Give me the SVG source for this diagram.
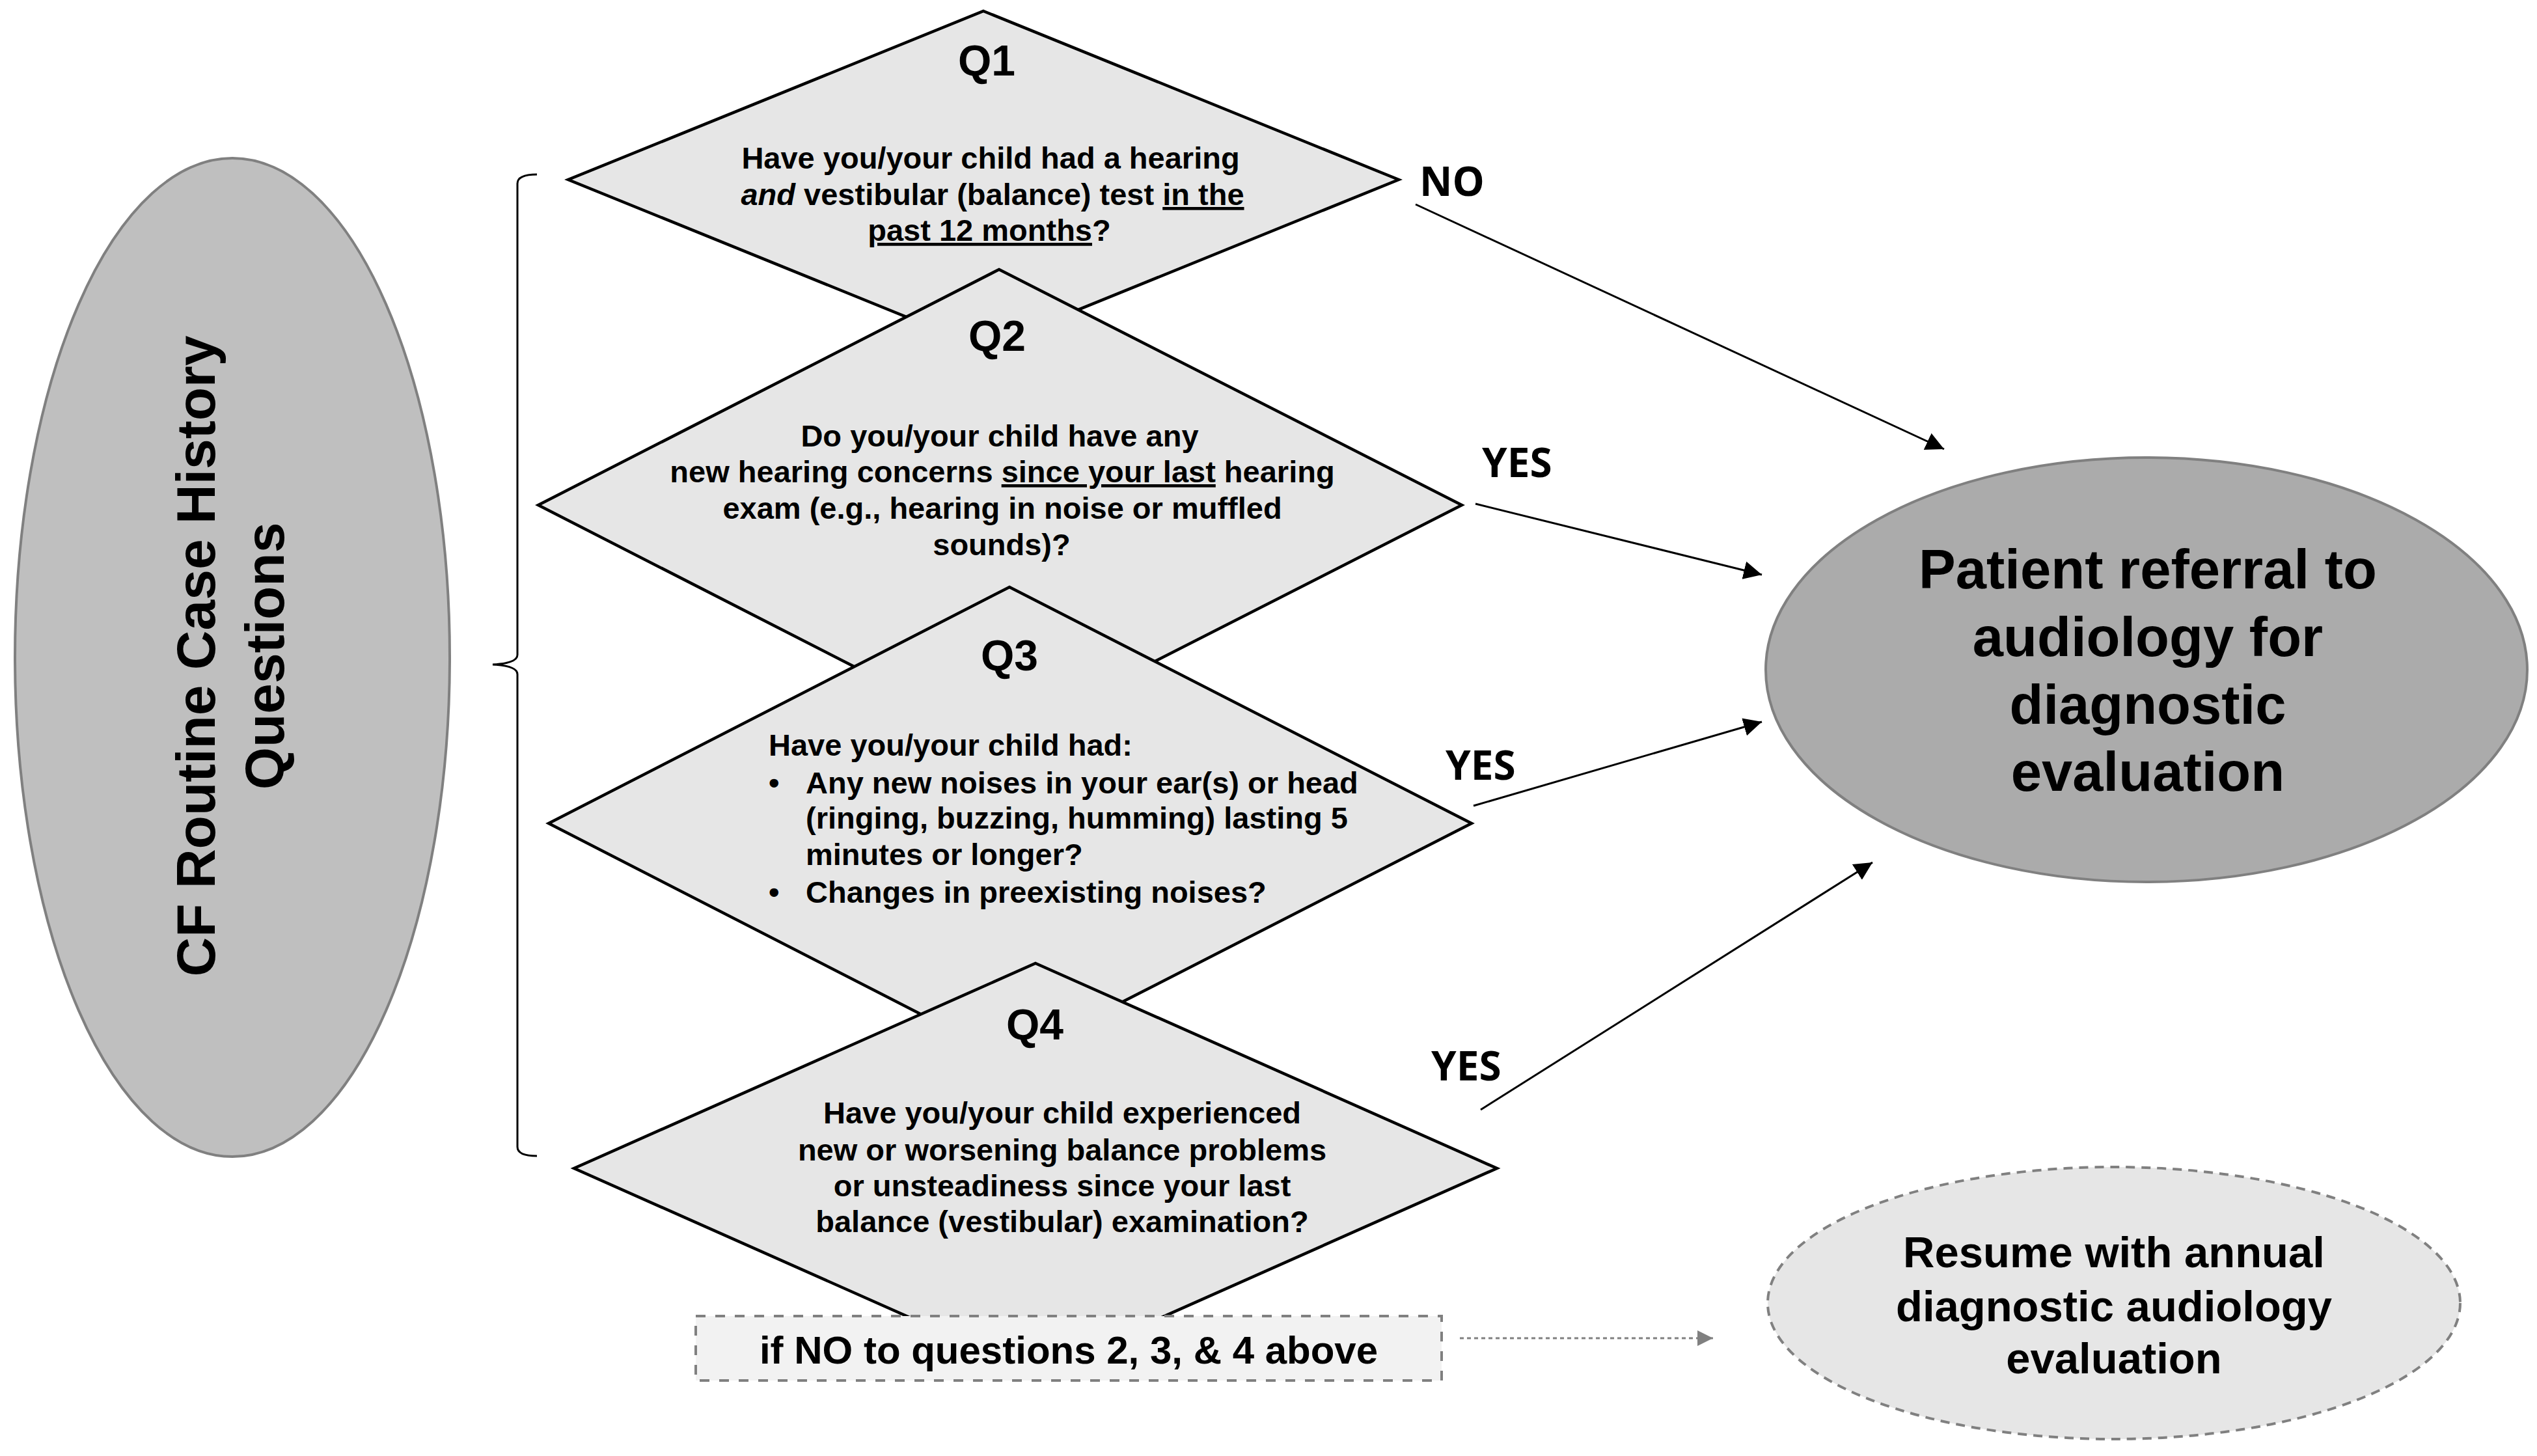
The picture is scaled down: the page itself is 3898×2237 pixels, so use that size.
<svg xmlns="http://www.w3.org/2000/svg" width="3898" height="2237" viewBox="0 0 3898 2237">
<defs>
<style>
text{font-family:"Liberation Sans",Arial,sans-serif;font-weight:bold;fill:#000}
.q{font-size:66px;text-anchor:middle}
.b{font-size:47px}
.c{text-anchor:middle}
.lbl{font-family:"Open Sans","Liberation Sans",sans-serif;font-size:62px;font-weight:bold}
.dia{fill:#e6e6e6;stroke:#000;stroke-width:4.5;stroke-linejoin:miter}
.conn{stroke:#000;stroke-width:3;fill:none}
.dot{stroke:#808080;stroke-width:3;stroke-dasharray:6 5;fill:none}
.u{text-decoration:underline}
</style>
<marker id="ah" markerUnits="userSpaceOnUse" markerWidth="30" markerHeight="28" refX="28" refY="14" orient="auto"><path d="M0,0 L28,14 L0,28 z" fill="#000"/></marker>
<marker id="ahg" markerUnits="userSpaceOnUse" markerWidth="26" markerHeight="26" refX="24" refY="12" orient="auto"><path d="M0,0 L24,12 L0,24 z" fill="#808080"/></marker>
</defs>
<rect width="3898" height="2237" fill="#fff"/>

<g id="start">
<ellipse cx="357" cy="1010" rx="334" ry="767" fill="#bfbfbf" stroke="#808080" stroke-width="4"/>
<text transform="translate(330,1008) rotate(-90)" class="c" font-size="84">CF Routine Case History<tspan x="0" dy="106">Questions</tspan></text>
</g>

<g id="brace">
<path d="M825,268 Q795,268 795,282 L795,1006 Q795,1019 757,1021 Q795,1023 795,1036 L795,1762 Q795,1776 825,1776" fill="none" stroke="#000" stroke-width="3"/>
</g>

<g id="q1">
<polygon class="dia" points="1511,17 2149,276 1511,535 873,276"/>
<text class="q" x="1516" y="116">Q1</text>
<text class="b c" x="1522" y="259">Have you/your child had a hearing</text>
<text class="b c" x="1525" y="315"><tspan font-style="italic">and</tspan> vestibular (balance) test <tspan class="u">in the</tspan></text>
<text class="b c" x="1520" y="370"><tspan class="u">past 12 months</tspan>?</text>
</g>

<g id="q2">
<polygon class="dia" points="1535,414 2246,776 1535,1138 827,776"/>
<text class="q" x="1532" y="539">Q2</text>
<text class="b c" x="1536" y="686">Do you/your child have any</text>
<text class="b c" x="1540" y="741">new hearing concerns <tspan class="u">since your last</tspan> hearing</text>
<text class="b c" x="1540" y="797">exam (e.g., hearing in noise or muffled</text>
<text class="b c" x="1539" y="853">sounds)?</text>
</g>

<g id="q3">
<polygon class="dia" points="1551,902 2261,1265 1551,1628 843,1265"/>
<text class="q" x="1551" y="1030">Q3</text>
<text class="b" x="1181" y="1161">Have you/your child had:</text>
<text class="b" x="1181" y="1219">•</text>
<text class="b" x="1238" y="1219">Any new noises in your ear(s) or head</text>
<text class="b" x="1238" y="1273">(ringing, buzzing, humming) lasting 5</text>
<text class="b" x="1238" y="1329">minutes or longer?</text>
<text class="b" x="1181" y="1387">•</text>
<text class="b" x="1238" y="1387">Changes in preexisting noises?</text>
</g>

<g id="q4">
<polygon class="dia" points="1591,1480 2300,1795 1591,2110 882,1795"/>
<text class="q" x="1590" y="1597">Q4</text>
<text class="b c" x="1632" y="1726">Have you/your child experienced</text>
<text class="b c" x="1632" y="1783">new or worsening balance problems</text>
<text class="b c" x="1632" y="1838">or unsteadiness since your last</text>
<text class="b c" x="1632" y="1893">balance (vestibular) examination?</text>
</g>

<g id="ifno">
<rect x="1069" y="2022" width="1146" height="99" fill="#f2f2f2" stroke="#808080" stroke-width="4" stroke-dasharray="15 15"/>
<text class="c" x="1642" y="2095" font-size="60">if NO to questions 2, 3, &amp; 4 above</text>
</g>

<g id="referral">
<ellipse cx="3298" cy="1029" rx="585" ry="326" fill="#ababab" stroke="#808080" stroke-width="4"/>
<text class="c" x="3300" y="904" font-size="85">Patient referral to</text>
<text class="c" x="3300" y="1008" font-size="85">audiology for</text>
<text class="c" x="3300" y="1112" font-size="85">diagnostic</text>
<text class="c" x="3300" y="1215" font-size="85">evaluation</text>
</g>

<g id="resume">
<ellipse cx="3248" cy="2002" rx="532" ry="209" fill="#e6e6e6" stroke="#808080" stroke-width="4" stroke-dasharray="14 10"/>
<text class="c" x="3248" y="1947" font-size="67">Resume with annual</text>
<text class="c" x="3248" y="2030" font-size="67">diagnostic audiology</text>
<text class="c" x="3248" y="2110" font-size="67">evaluation</text>
</g>

<g id="connectors">
<line class="conn" x1="2175" y1="314" x2="2987" y2="690" marker-end="url(#ah)"/>
<line class="conn" x1="2267" y1="774" x2="2707" y2="883" marker-end="url(#ah)"/>
<line class="conn" x1="2264" y1="1238" x2="2707" y2="1109" marker-end="url(#ah)"/>
<line class="conn" x1="2275" y1="1705" x2="2877" y2="1325" marker-end="url(#ah)"/>
<line class="dot" x1="2243" y1="2056" x2="2632" y2="2056" marker-end="url(#ahg)"/>
<text class="lbl" x="2181" y="301">NO</text>
<text class="lbl" x="2277" y="733">YES</text>
<text class="lbl" x="2221" y="1198">YES</text>
<text class="lbl" x="2199" y="1660">YES</text>
</g>
</svg>
